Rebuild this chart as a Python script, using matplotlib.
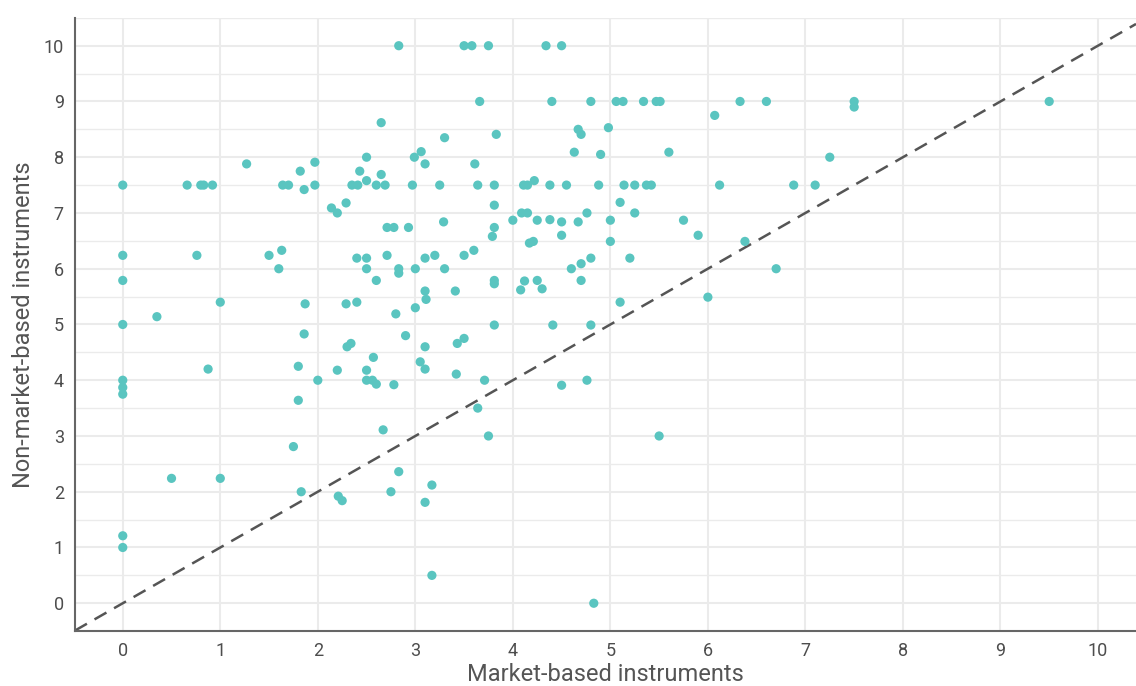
import numpy as np
import matplotlib
matplotlib.use('Agg')
import matplotlib.pyplot as plt
from matplotlib.ticker import MultipleLocator

plt.rcParams['font.family'] = ['Roboto', 'DejaVu Sans']

# market-based (x) and non-market-based (y) scores
market = [
    2.83, 2.65, 3.30, 1.27, 1.97, 1.82, 2.50, 2.43, 2.65, 2.50, 2.99, 3.06, 3.10,
    0.00, 0.66, 0.80, 0.83, 0.92, 1.64, 1.70, 1.97, 2.35, 2.41, 2.60, 2.69, 2.97, 3.25,
    1.86, 2.14, 2.20, 2.29, 2.71, 2.78, 2.93, 3.29,
    0.00, 0.76, 1.50, 1.63, 1.60,
    2.40, 2.50, 2.71, 2.50, 2.83, 2.83, 3.00, 2.60, 3.10, 3.20, 3.30,
    0.00, 1.00, 1.87, 2.29, 2.40, 2.80, 3.00, 3.10, 3.11, 3.41, 0.35,
    0.00, 1.86, 2.30, 2.34, 2.90, 3.10, 2.57, 3.05, 3.10,
    0.00, 0.00, 0.00, 0.875, 1.80, 2.00, 2.20, 2.50, 2.50, 2.56, 2.60, 2.78,
    1.80, 2.67, 1.75, 0.50, 1.00, 2.83, 3.17, 1.83, 2.21, 2.25, 2.75, 3.10,
    0.00, 0.00, 3.17,
    3.50, 3.58, 3.75, 4.34, 4.50,
    3.66, 4.40, 4.80, 5.06, 5.13, 5.34, 5.47, 5.51, 6.33, 6.60,
    6.07, 3.83, 4.67, 4.70, 4.98, 4.63, 4.90, 5.60, 3.61,
    3.64, 3.81, 4.11, 4.15, 4.38, 4.55, 4.88, 5.14, 5.25, 5.37, 5.42, 6.12, 6.88, 7.10,
    4.22, 3.81, 5.10,
    4.09, 4.15, 4.76, 5.25,
    4.00, 4.25, 4.38, 4.50, 4.67, 5.00, 5.75,
    3.81, 3.79, 4.17, 4.21, 4.50, 5.00, 5.90, 6.38,
    3.50, 3.60, 4.60, 4.70, 4.80, 5.20, 6.70,
    3.81, 3.81, 4.12, 4.25, 4.70, 4.08, 4.30, 6.00, 5.10,
    3.81, 4.41, 4.80, 3.43, 3.50, 3.42, 3.71, 4.50, 4.76, 3.64, 3.75, 5.50, 4.83,
    7.50, 7.50, 9.50, 7.25,
]
non_market = [
    10.0, 8.62, 8.35, 7.88, 7.91, 7.75, 8.00, 7.75, 7.69, 7.58, 8.00, 8.10, 7.88,
    7.50, 7.50, 7.50, 7.50, 7.50, 7.50, 7.50, 7.50, 7.50, 7.50, 7.50, 7.50, 7.50, 7.50,
    7.42, 7.09, 7.00, 7.18, 6.74, 6.74, 6.74, 6.84,
    6.24, 6.24, 6.24, 6.33, 6.00,
    6.19, 6.19, 6.24, 6.00, 6.00, 5.92, 6.00, 5.79, 6.19, 6.24, 6.00,
    5.79, 5.40, 5.37, 5.37, 5.40, 5.19, 5.30, 5.60, 5.45, 5.60, 5.14,
    5.00, 4.83, 4.60, 4.66, 4.80, 4.60, 4.41, 4.33, 4.20,
    4.00, 3.87, 3.75, 4.20, 4.25, 4.00, 4.18, 4.18, 4.00, 4.00, 3.93, 3.92,
    3.64, 3.11, 2.81, 2.24, 2.24, 2.36, 2.12, 2.00, 1.92, 1.84, 2.00, 1.81,
    1.21, 1.00, 0.50,
    10.0, 10.0, 10.0, 10.0, 10.0,
    9.00, 9.00, 9.00, 9.00, 9.00, 9.00, 9.00, 9.00, 9.00, 9.00,
    8.75, 8.41, 8.50, 8.41, 8.53, 8.09, 8.05, 8.09, 7.88,
    7.50, 7.50, 7.50, 7.50, 7.50, 7.50, 7.50, 7.50, 7.50, 7.50, 7.50, 7.50, 7.50, 7.50,
    7.58, 7.14, 7.19,
    7.00, 7.00, 7.00, 7.00,
    6.87, 6.87, 6.88, 6.84, 6.84, 6.87, 6.87,
    6.74, 6.58, 6.46, 6.49, 6.60, 6.49, 6.60, 6.49,
    6.24, 6.33, 6.00, 6.09, 6.19, 6.19, 6.00,
    5.79, 5.73, 5.78, 5.79, 5.79, 5.62, 5.64, 5.49, 5.40,
    4.99, 4.99, 4.99, 4.66, 4.75, 4.11, 4.00, 3.91, 4.00, 3.50, 3.00, 3.00, 0.00,
    9.00, 8.90, 9.00, 8.00,
]

fig = plt.figure(figsize=(11.36, 6.86), dpi=100)
ax = fig.add_axes([0.066, 0.080, 0.934, 0.894])

ax.set_xlim(-0.49, 10.39)
ax.set_ylim(-0.5, 10.5)

ax.xaxis.set_major_locator(MultipleLocator(1))
ax.yaxis.set_major_locator(MultipleLocator(1))
ax.yaxis.set_minor_locator(MultipleLocator(0.5))
ax.grid(which='major', color='#ebebeb', linewidth=1.5, zorder=0)
ax.grid(which='minor', axis='y', color='#ebebeb', linewidth=1.0, zorder=0)
ax.set_axisbelow(True)

for side in ['top', 'right']:
    ax.spines[side].set_visible(False)
for side in ['left', 'bottom']:
    ax.spines[side].set_color('#666666')
    ax.spines[side].set_linewidth(1.5)

ax.tick_params(which='both', length=0, labelsize=13, labelcolor='#4d4d4d', pad=8)

ax.axline((0, 0), slope=1, color='#555555', linewidth=1.8,
          linestyle=(0, (5.5, 3.5)), zorder=2)
ax.scatter(market, non_market, s=44, color='#5ac5c0', edgecolors='none', zorder=3)

ax.set_xlabel('Market-based instruments', fontsize=17, color='#555555', labelpad=2)
ax.set_ylabel('Non-market-based instruments', fontsize=17, color='#555555', labelpad=6)

fig.savefig('out.png', dpi=100)
